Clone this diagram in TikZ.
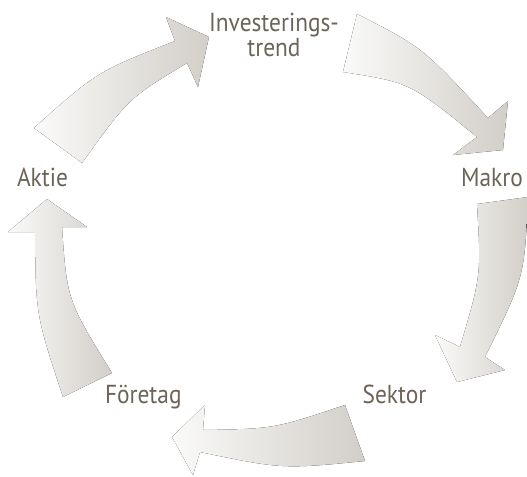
\documentclass[tikz,border=0pt]{standalone}
\usepackage{fontspec}
\setmainfont{PT Sans}[FakeStretch=0.9]
\usepackage{xcolor}
\definecolor{cyctext}{RGB}{109,99,86}
\definecolor{cyclight}{RGB}{250,250,249}
\definecolor{cycmid}{RGB}{241,240,237}
\definecolor{cycdark}{RGB}{210,206,200}
\usepackage{tikz}
\usetikzlibrary{positioning}

\tikzset{
  bigarrow/.style={left color=cyclight, middle color=cycmid, right color=cycdark, draw=none},
  steplabel/.style={font=\fontsize{13}{12.5}\selectfont, text=cyctext, inner sep=0pt, align=center}
}

\begin{document}
\begin{tikzpicture}[x=0.5pt, y=-0.5pt]
  \useasboundingbox (0,0) rectangle (527,477);

  % --- Labels ---
  \node[steplabel, anchor=base] (invest) at (274,56.7) {Investerings-\\trend};
  \node[steplabel, anchor=base] (makro) at (492,186.7) {Makro};
  \node[steplabel, anchor=base] (sektor) at (394.5,403) {Sektor};
  \node[steplabel, anchor=base] (foretag) at (143.3,403) {Företag};
  \node[steplabel, anchor=base] (aktie) at (42.5,186.7) {Aktie};

  % --- Arrows ---
  % Aktie -> Investeringstrend
  \fill[bigarrow] (34,128) .. controls (96.8,71.8) .. (175,41) -- (166,17) -- (209,37)
    -- (198,87) -- (187,63) .. controls (128.5,98.3) .. (82,163) -- cycle;
  % Investeringstrend -> Makro
  \fill[bigarrow] (357,14) .. controls (422.5,47.3) .. (488,118) -- (508,101) -- (503,150)
    -- (453,155) -- (477,137) .. controls (410,82.5) .. (343,72) -- cycle;
  % Makro -> Sektor
  \fill[bigarrow] (528,197) .. controls (524.5,277) .. (485,357) -- (505,370) -- (457,382)
    -- (435,335) -- (460,347) .. controls (481.2,275.5) .. (477,204) -- cycle;
  % Sektor -> Foretag
  \fill[bigarrow] (345,405) .. controls (274,428.8) .. (203,430) -- (205,405) -- (172,437)
    -- (193,475) -- (200,452) .. controls (282.5,469.2) .. (365,461) -- cycle;
  % Foretag -> Aktie
  \fill[bigarrow] (112,373) .. controls (67,300) .. (62,227) -- (87,227) -- (47,199)
    -- (8,232) -- (35,232) .. controls (35.7,314.5) .. (63,397) -- cycle;
\end{tikzpicture}
\end{document}
